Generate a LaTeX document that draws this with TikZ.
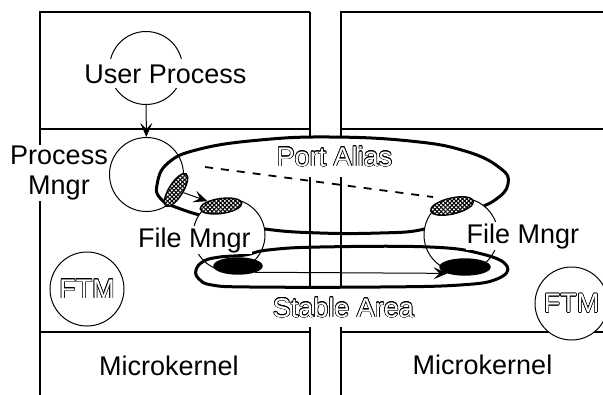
\documentclass[tikz,border=0pt]{standalone}
\usepackage{fontspec}
\setmainfont{Liberation Sans}
\usepackage{contour}
\contourlength{0.55pt}
\usetikzlibrary{shapes.geometric,arrows.meta,patterns.meta}
\newcommand\hollowtext[1]{\contour{black}{\textcolor{white}{#1}}}
\begin{document}
\begin{tikzpicture}[x=1pt,y=-1pt,
  box/.style={line width=1.1pt},
  txt/.style={font=\fontsize{27}{30}\selectfont,inner sep=1pt},
  wtxt/.style={txt,fill=white},
  ring/.style={draw,circle,line width=1pt,inner sep=0pt},
  blob/.style={draw,line width=3pt,line join=round},
  hatched/.style={draw,ellipse,inner sep=0pt,line width=1.4pt,fill=white,
    postaction={pattern={Lines[angle=45,distance=3pt,line width=1.1pt]}},
    postaction={pattern={Lines[angle=-45,distance=3pt,line width=1.1pt]}}},
  solidell/.style={draw,ellipse,inner sep=0pt,line width=1.4pt,fill=black},
  arr/.style={line width=1pt,-{Stealth[length=14pt,width=12pt,inset=6pt]}},
  dashline/.style={line width=1.8pt,dash pattern=on 8pt off 8pt}]
\useasboundingbox (0,0) rectangle (603,394);
\fill[white] (0,0) rectangle (603,394);
% boxes
\draw[box] (310,12) -- (40,12) -- (40,400);
\draw[box] (40,129) -- (310,129);
\draw[box] (40,332) -- (310,332);
\draw[box] (310,12) -- (310,400);
\draw[box] (610,12) -- (341,12) -- (341,400);
\draw[box] (341,129) -- (610,129);
\draw[box] (341,332) -- (610,332);
% labels covering box lines
\node[wtxt,align=center] (pmlabel) at (59,173) {Process\\Mngr};
\node[txt,fill=white,inner xsep=3pt,inner ysep=10pt,anchor=base] (palabel) at (334.5,166) {\hollowtext{Port Alias}};
\node[txt,fill=white,inner xsep=3pt,inner ysep=9pt,anchor=base] (salabel) at (343.5,317) {\hollowtext{Stable Area}};
% circles
\node[ring,minimum size=73pt] (up) at (146,68) {};
\node[ring,minimum size=74pt] (pm) at (146.5,174.5) {};
% Port Alias region
\draw[blob] plot[smooth cycle,tension=0.75] coordinates {(157,185) (168,163) (200,149) (260,140) (330,137) (410,141) (465,151) (500,168) (508,184) (495,200) (470,211) (440,221) (420,230) (380,233) (320,233) (265,229) (215,219) (178,208) (161,199)};
% dashed alias line
\coordinate (ds) at (205,167);
\coordinate (de) at (433,197);
\draw[dashline] (ds) -- (de);
% file manager circles
\node[ring,minimum size=72pt,fill=white] (fm1) at (229,235) {};
\node[ring,minimum size=74pt,fill=white] (fm2) at (461,235) {};
% Stable Area region
\draw[blob] plot[smooth cycle,tension=0.7] coordinates {(196,270) (204,261) (220,257) (245,255) (268,250) (320,247) (430,247) (482,254) (507,266) (497,279) (460,285) (380,287) (250,287) (212,285) (199,279)};
% ports
\node[hatched,minimum width=38pt,minimum height=14pt,rotate=58] (h1) at (176,190) {};
\node[hatched,minimum width=42pt,minimum height=15pt,rotate=8] (h2) at (221,206) {};
\node[hatched,minimum width=44pt,minimum height=16pt,rotate=13] (h3) at (452,206) {};
\node[solidell,minimum width=48pt,minimum height=16pt] (b1) at (238,266) {};
\node[solidell,minimum width=50pt,minimum height=16pt] (b2) at (465,267) {};
% arrows
\draw[arr] (up) -- (pm);
\draw[arr] (h1) -- (h2);
\draw[arr] (b1.-20) -- (b2.200);
% texts
\node[wtxt,inner xsep=2pt,inner ysep=5pt,anchor=base] (uptext) at (165.5,83) {User Process};
\node[wtxt,anchor=base] (fm1text) at (194.5,247) {File Mngr};
\node[wtxt,anchor=base] (fm2text) at (523,243) {File Mngr};
\node[ring,minimum size=74pt,fill=white,txt] (ftm1) at (87,289) {\hollowtext{FTM}};
\node[ring,minimum size=73pt,fill=white,txt] (ftm2) at (571.5,303.5) {\hollowtext{FTM}};
\node[txt,anchor=base] (mk1) at (169,375) {Microkernel};
\node[txt,anchor=base] (mk2) at (482.5,374) {Microkernel};
\end{tikzpicture}
\end{document}
